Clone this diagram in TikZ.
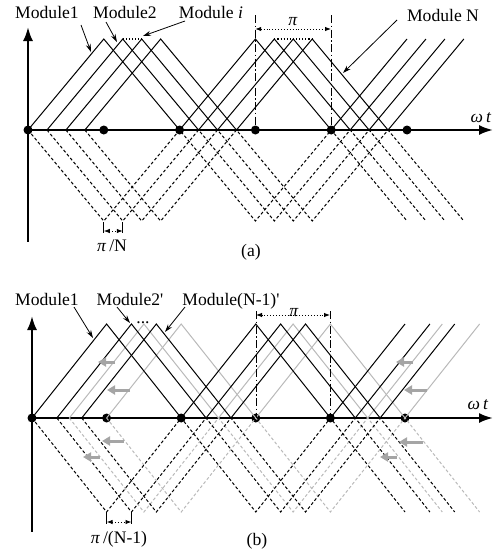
\documentclass[tikz,border=0pt]{standalone}
\usepackage{fontspec}
\setmainfont{Liberation Serif}
\usetikzlibrary{arrows.meta}
\definecolor{lgray}{RGB}{185,185,185}
\definecolor{agray}{RGB}{165,165,165}
\begin{document}
\begin{tikzpicture}[x=1pt,y=-1pt,
  every node/.style={inner sep=0pt, outer sep=0pt},
  lbl/.style={font=\fontsize{17.6}{20}\selectfont, anchor=base},
  wave/.style={line width=1pt},
  dwave/.style={line width=1pt, dash pattern=on 3pt off 2.2pt},
  gw/.style={line width=1pt, draw=lgray},
  gdw/.style={gw, dash pattern=on 3pt off 2.2pt},
  axisline/.style={line width=2.2pt, -{Latex[length=14pt,width=10pt]}},
  dotc/.style={circle, fill=black, minimum size=9pt, inner sep=0pt},
  ddline/.style={line width=1pt, dash pattern=on 8pt off 2.5pt on 1.5pt off 2.5pt},
  parr/.style={dotted, line width=0.9pt, {Latex[length=6pt,width=4.5pt]}-{Latex[length=6pt,width=4.5pt]}},
  ptr/.style={line width=0.8pt, -{Stealth[length=8pt,width=5pt]}},
  garr/.style={line width=3pt, draw=agray, -{Triangle[length=8pt,width=9pt]}, color=agray},
  pkdot/.style={dotted, line width=1.1pt},
  brk/.style={line width=1pt},
]
\useasboundingbox (0,0) rectangle (493,554);

% ================= (a) =================
\coordinate (aO) at (28,130);
\coordinate (aYtop) at (28,27);
\coordinate (aYbot) at (28,242);
\coordinate (aXend) at (493,130);
\draw[line width=2.2pt] (aO) -- (aYbot);
\draw[axisline] (aO) -- (aYtop);
\draw[axisline] (aO) -- (aXend);
\foreach \k in {0,...,5} {
  \node[dotc] (da\k) at (28+75.8*\k,130) {};
}
\foreach \d in {0,18.95,37.9,56.85} {
  \draw[wave] (28+\d,130) -- ++(75.8,-91) -- ++(75.8,91) -- ++(75.8,-91) -- ++(75.8,91) -- ++(75.8,-91);
  \draw[dwave] (28+\d,130) -- ++(75.8,91) -- ++(75.8,-91) -- ++(75.8,91) -- ++(75.8,-91) -- ++(75.8,91);
}
\coordinate (apk2) at (122.75,39);
\coordinate (apk3) at (141.7,39);
\coordinate (apk2b) at (274.35,39);
\coordinate (apk4b) at (312.25,39);
\draw[pkdot] (apk2) -- (apk3);
\draw[pkdot] (apk2b) -- (apk4b);
\coordinate (avl1t) at (255.2,15);
\coordinate (avl2t) at (331,15);
\coordinate (avl1b) at (255.2,130);
\coordinate (avl2b) at (331,130);
\draw[ddline] (avl1t) -- (avl1b);
\draw[ddline] (avl2t) -- (avl2b);
\coordinate (api1) at (255.2,29);
\coordinate (api2) at (331,29);
\draw[parr] (api1) -- (api2);
\node[lbl] (apilbl) at (293,25) {\textit{π}};
\coordinate (ab1t) at (103.8,222);
\coordinate (ab1b) at (103.8,233);
\coordinate (ab2t) at (122.75,222);
\coordinate (ab2b) at (122.75,233);
\draw[brk] (ab1t) -- (ab1b);
\draw[brk] (ab2t) -- (ab2b);
\coordinate (abm1) at (103.8,231);
\coordinate (abm2) at (122.75,231);
\draw[parr] (abm1) -- (abm2);
\node[lbl] (apinlbl) at (112,251) {\textit{π}\,/N};
\node[lbl] (aM1) at (47,19) {Module1};
\node[lbl] (aM2) at (125,19) {Module2};
\node[lbl] (aMi) at (211,19) {Module \textit{i}};
\node[lbl] (aMN) at (443,21) {Module N};
\node[lbl] (awt) at (481,122) {\textit{ω}\,\textit{t}};
\node[lbl] (acap) at (251,256) {(a)};
\coordinate (pa1s) at (81,25);   \coordinate (pa1e) at (91,52);
\coordinate (pa2s) at (106,22);  \coordinate (pa2e) at (117,42);
\coordinate (pais) at (185,21);  \coordinate (paie) at (143,36);
\coordinate (pans) at (397,20);  \coordinate (pane) at (343,73);
\draw[ptr] (pa1s) -- (pa1e);
\draw[ptr] (pa2s) -- (pa2e);
\draw[ptr] (pais) -- (paie);
\draw[ptr] (pans) -- (pane);

% ================= (b) =================
\coordinate (bO) at (32,418);
\coordinate (bYtop) at (32,316);
\coordinate (bYbot) at (32,532);
\coordinate (bXend) at (493,418);
\draw[line width=2.2pt] (bO) -- (bYbot);
\draw[axisline] (bO) -- (bYtop);
\draw[axisline] (bO) -- (bXend);
\foreach \k in {0,...,5} {
  \node[dotc] (db\k) at (32+74.6*\k,418) {};
}
\foreach \d in {37.3,74.6} {
  \draw[gw] (32+\d,418) -- ++(74.6,-94) -- ++(74.6,94) -- ++(74.6,-94) -- ++(74.6,94) -- ++(74.6,-94);
  \draw[gdw] (32+\d,418) -- ++(74.6,94) -- ++(74.6,-94) -- ++(74.6,94) -- ++(74.6,-94) -- ++(74.6,94);
}
\foreach \d in {0,24.87,49.73} {
  \draw[wave] (32+\d,418) -- ++(74.6,-94) -- ++(74.6,94) -- ++(74.6,-94) -- ++(74.6,94) -- ++(74.6,-94);
  \draw[dwave] (32+\d,418) -- ++(74.6,94) -- ++(74.6,-94) -- ++(74.6,94) -- ++(74.6,-94) -- ++(74.6,94);
}
\coordinate (bvl1t) at (256,311);
\coordinate (bvl2t) at (330,311);
\coordinate (bvl1b) at (256,418);
\coordinate (bvl2b) at (330,418);
\draw[ddline] (bvl1t) -- (bvl1b);
\draw[ddline] (bvl2t) -- (bvl2b);
\coordinate (bpi1) at (256,315);
\coordinate (bpi2) at (330,315);
\draw[parr] (bpi1) -- (bpi2);
\node[lbl] (bpilbl) at (294,316) {\textit{π}};
\coordinate (bb1t) at (106.6,512);
\coordinate (bb1b) at (106.6,524);
\coordinate (bb2t) at (131.5,512);
\coordinate (bb2b) at (131.5,524);
\draw[brk] (bb1t) -- (bb1b);
\draw[brk] (bb2t) -- (bb2b);
\coordinate (bbm1) at (106.6,522);
\coordinate (bbm2) at (131.5,522);
\draw[parr] (bbm1) -- (bbm2);
\node[lbl] (bpinlbl) at (119,543) {\textit{π}\,/(N-1)};
\draw[garr] (115,362) -- (98,362);
\draw[garr] (130,390) -- (107,390);
\draw[garr] (413,362) -- (396,362);
\draw[garr] (427,390) -- (404,390);
\draw[garr] (124,441) -- (102,441);
\draw[garr] (100,457) -- (83,457);
\draw[garr] (423,442) -- (399,442);
\draw[garr] (397,457) -- (380,457);
\node[lbl] (bM1) at (47,305) {Module1};
\node[lbl] (bM2) at (130,305) {Module2\textquotesingle};
\node[lbl] (bMN) at (231,305) {Module(N-1)\textquotesingle};
\node[lbl] (bdots) at (143,323) {...};
\node[lbl] (bwt) at (478,409) {\textit{ω}\,\textit{t}};
\node[lbl] (bcap) at (257,545) {(b)};
\coordinate (pb1s) at (74,307);  \coordinate (pb1e) at (93,338);
\coordinate (pb2s) at (117,307); \coordinate (pb2e) at (130,323);
\coordinate (pbns) at (185,307); \coordinate (pbne) at (165,332);
\draw[ptr] (pb1s) -- (pb1e);
\draw[ptr] (pb2s) -- (pb2e);
\draw[ptr] (pbns) -- (pbne);
\end{tikzpicture}
\end{document}
